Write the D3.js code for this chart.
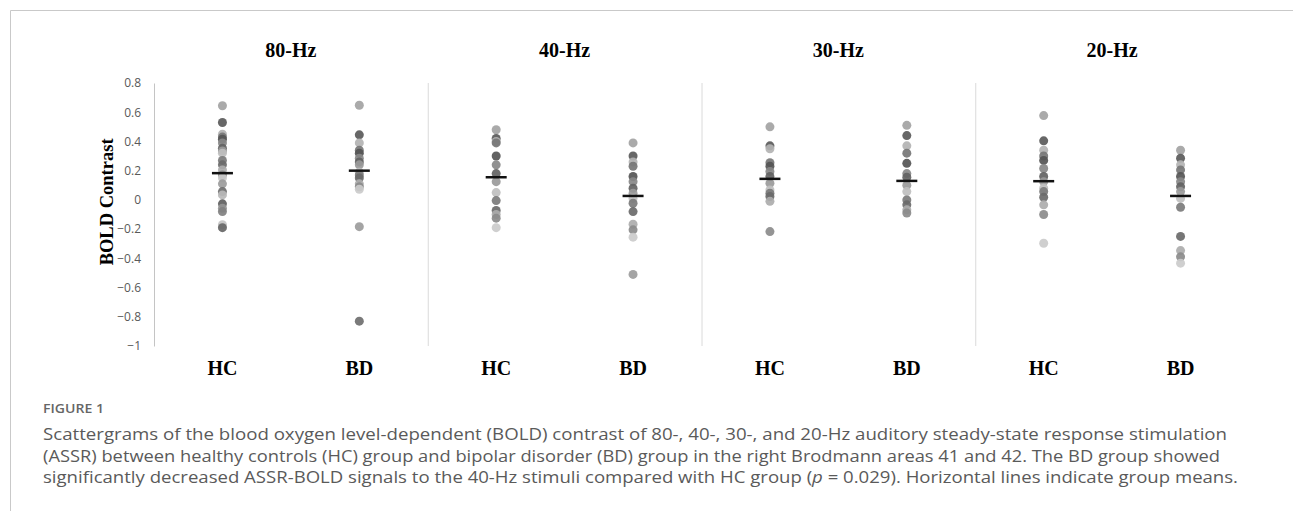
<!DOCTYPE html>
<html>
<head>
<meta charset="utf-8">
<script src="https://cdn.jsdelivr.net/npm/d3@7"></script>
<style>
  body { margin: 0; background: #fff; }
</style>
</head>
<body>
<div id="chart"></div>
<script>
const width = 1293,
height = 511;

// data
const freqs = ["80-Hz", "40-Hz", "30-Hz", "20-Hz"];
const groups = ["HC", "BD"];
const yTicks = [0.8, 0.6, 0.4, 0.2, 0, -0.2, -0.4, -0.6, -0.8, -1];

const hc80 = [0.644, 0.53, 0.45, 0.43, 0.415, 0.39, 0.354, 0.335, 0.32, 0.27, 0.24, 0.205, 0.17, 0.15, 0.11, 0.057, 0.034, -0.027, -0.057, -0.08, -0.17, -0.19];
const bd80 = [0.648, 0.445, 0.39, 0.34, 0.32, 0.285, 0.26, 0.24, 0.19, 0.17, 0.15, 0.11, 0.09, 0.073, -0.183, -0.83];
const hc40 = [0.48, 0.42, 0.4, 0.39, 0.3, 0.24, 0.18, 0.125, 0.05, -0.005, -0.073, -0.1, -0.125, -0.19];
const bd40 = [0.39, 0.3, 0.26, 0.23, 0.16, 0.125, 0.08, 0.046, 0.01, -0.023, -0.08, -0.167, -0.205, -0.255, -0.51];
const hc30 = [0.5, 0.37, 0.35, 0.255, 0.23, 0.195, 0.16, 0.114, 0.068, 0.046, 0.023, -0.01, -0.217];
const bd30 = [0.51, 0.44, 0.37, 0.32, 0.25, 0.18, 0.155, 0.1, 0.057, 0, -0.034, -0.068, -0.09];
const hc20 = [0.577, 0.404, 0.34, 0.3, 0.27, 0.215, 0.16, 0.125, 0.08, 0.057, 0.018, -0.034, -0.1, -0.297];
const bd20 = [0.34, 0.285, 0.24, 0.205, 0.16, 0.125, 0.09, 0.057, 0.01, -0.05, -0.25, -0.347, -0.39, -0.433];

const hcMeans = [0.183, 0.155, 0.144, 0.128];
const bdMeans = [0.2, 0.027, 0.13, 0.027];

const hcValues = [hc80, hc40, hc30, hc20];
const bdValues = [bd80, bd40, bd30, bd20];

const svg = d3.select("#chart")
            .append("svg")
            .attr("width", width)
            .attr("height", height)
            .style("font-family", "'Liberation Serif', serif");

// outer frame
svg.append("path")
    .attr("d", `M10.5,${height} V10.5 H${width}`)
    .attr("fill", "none")
    .attr("stroke", "#c9c9c9")
    .attr("stroke-width", 1);

const x = d3.scaleBand()
            .domain(freqs)
            .range([154, 1249]);

const xg = d3.scalePoint()
            .domain(groups)
            .range([0, x.bandwidth()])
            .padding(0.5);

const y = d3.scaleLinear()
            .domain([-1, 0.8])
            .range([346, 83]);

const grey = d3.scaleOrdinal()
            .domain(d3.range(22))
            .range(["#a3a3a3", "#5a5a5a", "#b3b3b3", "#767676", "#555555", "#888888", "#636363", "#9a9a9a",
                    "#bfbfbf", "#7b7b7b", "#6a6a6a", "#adadad", "#8b8b8b", "#cbcbcb", "#9c9c9c", "#6f6f6f",
                    "#b9b9b9", "#606060", "#959595", "#818181", "#c3c3c3", "#666666"]);

// y axis
const yAxis = svg.append("g")
    .attr("transform", "translate(154,0)")
    .call(d3.axisLeft(y).tickValues(yTicks).tickSize(0).tickPadding(13)
          .tickFormat(d => d3.format("")(+d.toFixed(1))));
yAxis.select(".domain").attr("stroke", "#c4c4c4");
yAxis.selectAll("text")
    .attr("fill", "#595959")
    .style("font-family", "'Open Sans', sans-serif")
    .style("font-size", "12px");

// panel separators
svg.selectAll("sepLines")
    .data(freqs.slice(0, -1))
    .join("line")
    .attr("x1", d => x(d) + x.bandwidth() + 0.5)
    .attr("x2", d => x(d) + x.bandwidth() + 0.5)
    .attr("y1", y(0.8))
    .attr("y2", y(-1))
    .attr("stroke", "#dadada")
    .attr("stroke-width", 1);

// panel titles
svg.selectAll("titles")
    .data(freqs)
    .join("text")
    .attr("x", d => x(d) + x.bandwidth() / 2)
    .attr("y", 57)
    .attr("text-anchor", "middle")
    .style("font-weight", "bold")
    .style("font-size", "20px")
    .text(d => d);

// group labels
freqs.forEach(f => {
    svg.selectAll(null)
        .data(groups)
        .join("text")
        .attr("x", g => x(f) + xg(g))
        .attr("y", 375)
        .attr("text-anchor", "middle")
        .style("font-weight", "bold")
        .style("font-size", "20px")
        .text(g => g);
});

// y axis title
svg.append("text")
    .attr("transform", `translate(113,${y(0) + 2}) rotate(-90)`)
    .attr("text-anchor", "middle")
    .style("font-weight", "bold")
    .style("font-size", "18.5px")
    .text("BOLD Contrast");

// points
freqs.forEach((f, fi) => {
    [hcValues[fi], bdValues[fi]].forEach((vals, gi) => {
        svg.selectAll(null)
            .data(vals)
            .join("circle")
            .attr("cx", x(f) + xg(groups[gi]))
            .attr("cy", d => y(d))
            .attr("r", 4.5)
            .attr("fill", (d, i) => grey(i))
            .attr("opacity", 0.92);
    });
});

// mean lines
freqs.forEach((f, fi) => {
    svg.selectAll(null)
        .data([hcMeans[fi], bdMeans[fi]])
        .join("line")
        .attr("x1", (d, gi) => x(f) + xg(groups[gi]) - 10.5)
        .attr("x2", (d, gi) => x(f) + xg(groups[gi]) + 10.5)
        .attr("y1", d => y(d))
        .attr("y2", d => y(d))
        .attr("stroke", "#111")
        .attr("stroke-width", 2.5);
});

// caption
const cap = svg.append("g")
    .style("font-family", "'Open Sans', sans-serif")
    .attr("fill", "#5a5a5a");

cap.append("text")
    .attr("x", 43)
    .attr("y", 413)
    .attr("textLength", 61)
    .attr("lengthAdjust", "spacingAndGlyphs")
    .attr("fill", "#666")
    .style("font-size", "12.5px")
    .style("font-weight", "600")
    .text("FIGURE 1");

const capLines = [
    "Scattergrams of the blood oxygen level-dependent (BOLD) contrast of 80-, 40-, 30-, and 20-Hz auditory steady-state response stimulation",
    "(ASSR) between healthy controls (HC) group and bipolar disorder (BD) group in the right Brodmann areas 41 and 42. The BD group showed"
];
const capWidths = [1184, 1177];

cap.selectAll("capLines")
    .data(capLines)
    .join("text")
    .attr("x", 43)
    .attr("y", (d, i) => 440 + i * 21.5)
    .attr("textLength", (d, i) => capWidths[i])
    .attr("lengthAdjust", "spacingAndGlyphs")
    .style("font-size", "16px")
    .text(d => d);

const last = cap.append("text")
    .attr("x", 43)
    .attr("y", 483)
    .attr("textLength", 1195)
    .attr("lengthAdjust", "spacingAndGlyphs")
    .style("font-size", "16px");
last.append("tspan").text("significantly decreased ASSR-BOLD signals to the 40-Hz stimuli compared with HC group (");
last.append("tspan").style("font-style", "italic").text("p");
last.append("tspan").text(" = 0.029). Horizontal lines indicate group means.");
</script>
</body>
</html>
